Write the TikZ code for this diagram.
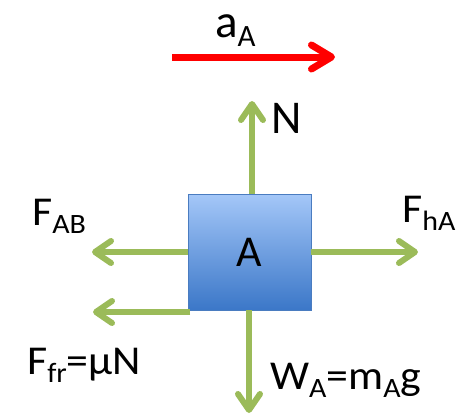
\documentclass[tikz,border=0pt]{standalone}
\usepackage{fontspec}
\setmainfont{Carlito}
\usetikzlibrary{arrows.meta}
\definecolor{frc}{HTML}{9BBB59}
\definecolor{acc}{HTML}{FF0000}
\definecolor{boxtop}{HTML}{A4C7F8}
\definecolor{boxbot}{HTML}{3B77C8}
\definecolor{boxline}{HTML}{4A7CC0}
\newcommand\mysub[2]{{\fontsize{#1}{#1}\selectfont\raisebox{-0.32em}{#2}}}
\newcommand\wide[1]{\scalebox{1.07}[1]{#1}}
\tikzset{
  force/.style={draw=frc, line width=6pt, -{Straight Barb[length=16pt,width=22pt,line cap=round,line join=round]}},
  accel/.style={draw=acc, line width=7pt, -{Straight Barb[length=20pt,width=24pt,line cap=round,line join=round]}},
  lbl/.style={anchor=base west, inner sep=0pt, font=\fontsize{41}{41}\selectfont},
  biglbl/.style={anchor=base west, inner sep=0pt, font=\fontsize{47}{47}\selectfont},
}
\begin{document}
\begin{tikzpicture}[x=1pt,y=-1pt]
\useasboundingbox (0,0) rectangle (459,416);
% block
\shade[top color=boxtop, bottom color=boxbot] (188,194) rectangle (311,310);
\draw[boxline, line width=1pt] (188,194) rectangle (311,310);
\node[anchor=center, inner sep=0pt, font=\fontsize{44}{44}\selectfont] (blk) at (249.5,252) {A};
\coordinate (bl) at (188,252);
\coordinate (blb) at (190,312);
\coordinate (br) at (311,252);
\coordinate (bt) at (252,194);
\coordinate (bb) at (249,310);
% force tips
\coordinate (tAB) at (92,252);
\coordinate (tfr) at (93,312);
\coordinate (thA) at (418,252);
\coordinate (tN) at (252,101);
\coordinate (tW) at (249,413);
\draw[force] (bl) -- (tAB);
\draw[force] (blb) -- (tfr);
\draw[force] (br) -- (thA);
\draw[force] (bt) -- (tN);
\draw[force] (bb) -- (tW);
% acceleration
\coordinate (a0) at (172,57);
\coordinate (a1) at (335,57);
\draw[accel] (a0) -- (a1);
% labels
\node[biglbl] (la) at (215,37) {a\mysub{31}{A}};
\node[biglbl] (lN) at (271,133) {N};
\node[lbl] (lAB) at (32,225) {\wide{F\mysub{28}{AB}}};
\node[lbl] (lhA) at (402,222) {\wide{F\mysub{28}{hA}}};
\node[lbl] (lfr) at (27,374) {\wide{F\mysub{28}{fr}=µN}};
\node[lbl] (lW) at (270,389) {\wide{W\mysub{28}{A}=m\mysub{28}{A}g}};
\end{tikzpicture}
\end{document}
